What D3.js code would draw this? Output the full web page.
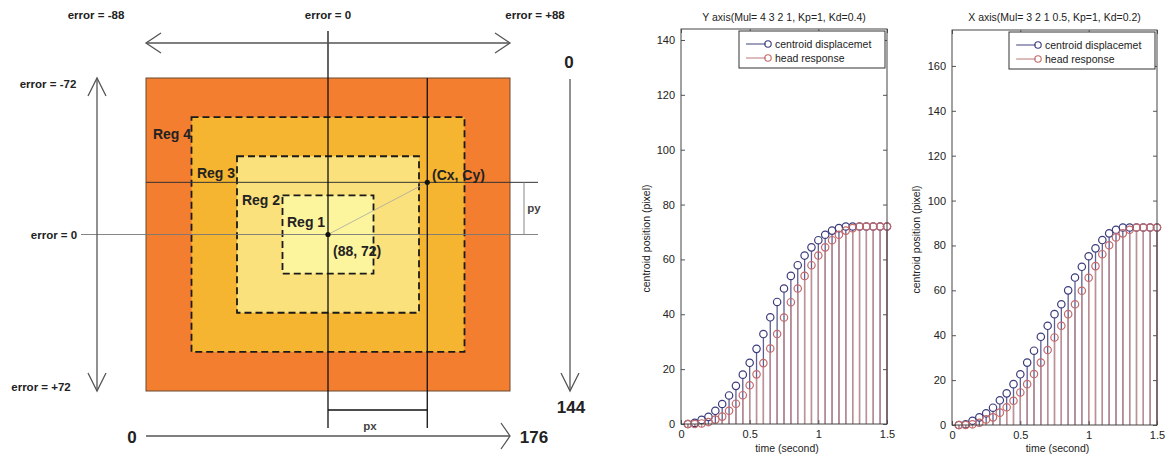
<!DOCTYPE html>
<html>
<head>
<meta charset="utf-8">
<script src="https://cdn.jsdelivr.net/npm/d3@7"></script>
<style>
  body { margin: 0; background: #fff; }
  svg { display: block; font-family: "Liberation Sans", Arial, sans-serif; }
</style>
</head>
<body>
<svg id="fig" width="1172" height="458"></svg>
<script>
// ---- data ----
const time = [0.05, 0.1, 0.15, 0.2, 0.25, 0.3, 0.35, 0.4, 0.45, 0.5,
  0.55, 0.6, 0.65, 0.7, 0.75, 0.8, 0.85, 0.9, 0.95, 1.0,
  1.05, 1.1, 1.15, 1.2, 1.25, 1.3, 1.35, 1.4, 1.45, 1.5];

// Y axis run
const yCentroid = [0, 0.4, 1.5, 2.6, 4.8, 7.3, 10.4, 13.9, 18, 22.3,
  27.4, 32.8, 38.9, 44.5, 49.4, 54, 57.9, 61.4, 64.4, 67,
  69, 70.5, 71.4, 72, 72, 72, 72, 72, 72, 72];
const yHead = [0, 0, 0.2, 0.7, 1.6, 2.7, 4.8, 7.4, 10.5, 14.1,
  18.1, 22.2, 27.5, 32.8, 38.8, 44.4, 49.4, 54, 57.9, 61.4,
  64.4, 67, 69, 70.5, 71.4, 72, 72, 72, 72, 72];

// X axis run
const xCentroid = [0, 0.3, 1.9, 3.4, 5.2, 7.7, 11, 14.1, 18.2, 22.6,
  27.8, 33.1, 39.3, 44.2, 49.4, 53.8, 60, 65.7, 70.5, 75.2,
  78.7, 82.4, 85.4, 87, 88, 88, 88, 88, 88, 88];
const xHead = [0, 0, 0.3, 1.0, 2.5, 3.4, 5.5, 7.9, 10.8, 14.5,
  18.2, 22.7, 27.8, 33.4, 39, 44.2, 49.4, 53.8, 59.8, 65.6,
  70.8, 76.1, 80.1, 83.6, 85.4, 87, 88, 88, 88, 88];

const seriesNames = ["centroid displacemet", "head response"];
const timeTicks = [0, 0.5, 1, 1.5];
const yTicksY = [0, 20, 40, 60, 80, 100, 120, 140];
const yTicksX = [0, 20, 40, 60, 80, 100, 120, 140, 160];

// image frame used in the diagram
const imgW = 176, imgH = 144;
const center = [88, 72];
const centroid = [136, 48];
const regionNames = ["Reg 4", "Reg 3", "Reg 2", "Reg 1"];
const regionFrac = [1, 0.75, 0.5, 0.25];
const regionFill = ["#f47e30", "#f6b531", "#fbe17c", "#fdf49e"];

const svg = d3.select("#fig");

// ---------------- left diagram ----------------
const ix = d3.scaleLinear().domain([0, imgW]).range([146, 510]);
const iy = d3.scaleLinear().domain([0, imgH]).range([78, 391]);
const dia = svg.append("g");

regionFrac.forEach((f, i) => {
  const x0 = center[0] - f * imgW / 2, x1 = center[0] + f * imgW / 2;
  const y0 = center[1] - f * imgH / 2, y1 = center[1] + f * imgH / 2;
  dia.append("rect")
    .attr("x", ix(x0)).attr("y", iy(y0))
    .attr("width", ix(x1) - ix(x0)).attr("height", iy(y1) - iy(y0))
    .attr("fill", regionFill[i])
    .attr("stroke", i === 0 ? "#6a4a30" : "#1a1a1a")
    .attr("stroke-width", i === 0 ? 1 : 1.8)
    .attr("stroke-dasharray", i === 0 ? null : "7,4");
});

const grayArrow = "#555";
function line(x1, y1, x2, y2, color, w) {
  return dia.append("line")
    .attr("x1", x1).attr("y1", y1).attr("x2", x2).attr("y2", y2)
    .attr("stroke", color).attr("stroke-width", w);
}
function head(tx, ty, dx, dy, ox, oy) {
  // open chevron with tip at (tx,ty)
  dia.append("path")
    .attr("d", `M${tx + dx + ox},${ty + dy + oy}L${tx},${ty}L${tx + dx - ox},${ty + dy - oy}`)
    .attr("fill", "none").attr("stroke", grayArrow).attr("stroke-width", 1.3);
}

// guide lines through centre and centroid
line(ix(0) - 65, iy(center[1]), ix(imgW) + 28, iy(center[1]), "#777", 0.9);
line(ix(0), iy(centroid[1]), ix(imgW) + 28, iy(centroid[1]), "#333", 1);
line(ix(center[0]), iy(center[1]), ix(centroid[0]), iy(centroid[1]), "#a8a8a0", 0.8);
line(ix(center[0]), 31, ix(center[0]), 428, "#111", 1.3);
line(ix(centroid[0]), iy(0), ix(centroid[0]), 428, "#111", 1.3);

// px / py brackets
line(ix(center[0]), 410, ix(centroid[0]), 410, "#111", 1.3);
line(ix(imgW) + 14, iy(centroid[1]), ix(imgW) + 14, iy(center[1]), "#888", 1);

// arrows
line(ix(0), 43, ix(imgW), 43, grayArrow, 1.3);
head(ix(0), 43, 15, 0, 0, 10);
head(ix(imgW), 43, -15, 0, 0, 10);

line(97, iy(0), 97, iy(imgH), grayArrow, 1.3);
head(97, iy(0), 0, 18, 9, 0);
head(97, iy(imgH), 0, -18, 9, 0);

line(570, iy(0) + 1, 570, iy(imgH), grayArrow, 1.3);
head(570, iy(imgH), 0, -18, 9, 0);

line(ix(0), 436, ix(imgW), 436, grayArrow, 1.3);
head(ix(imgW), 436, -9, 0, 0, 13);

// dots
[center, centroid].forEach(p => {
  dia.append("circle").attr("cx", ix(p[0])).attr("cy", iy(p[1]))
    .attr("r", 2.6).attr("fill", "#111");
});

function label(x, y, txt, size, anchor, color) {
  dia.append("text").attr("x", x).attr("y", y)
    .attr("text-anchor", anchor || "middle")
    .attr("font-size", size).attr("font-weight", "bold")
    .attr("fill", color || "#222").text(txt);
}
label(96, 19, "error = -88", 11.5);
label(ix(center[0]), 19, "error = 0", 11.5);
label(535, 19, "error = +88", 11.5);
label(48, 88, "error = -72", 11.5);
label(54, 239, "error = 0", 11.5);
label(41, 391, "error = +72", 11.5);
label(569, 68, "0", 17);
label(571, 413, "144", 17);
label(132, 443, "0", 17);
label(534, 443, "176", 17);
label(370, 430, "px", 11.5, "middle", "#444");
label(534, 212, "py", 11.5, "middle", "#444");
label(432, 180, "(Cx, Cy)", 14, "start");
label(333, 256, `(${center[0]}, ${center[1]})`, 14, "start");

const regLabelPos = [[191, 139, "end"], [235, 178, "end"], [280, 205, "end"], [287, 227, "start"]];
regionNames.forEach((n, i) => {
  label(regLabelPos[i][0], regLabelPos[i][1], n, 14, regLabelPos[i][2]);
});

// ---------------- stem charts ----------------
const blueLine = "#5e5e92", blueMark = "#3c3c7c";
const redLine = "#c48e8c", redMark = "#c4696a";
const markR = 3.7;

function stemChart(left, right, top, bottom, yMax, yTicks, title, centroidVals, headVals, yLabelX) {
  const g = svg.append("g");
  const x = d3.scaleLinear().domain([0, 1.5]).range([left, right]);
  const y = d3.scaleLinear().domain([0, yMax]).range([bottom, top]);

  // stems
  const series = [[centroidVals, blueLine, blueMark], [headVals, redLine, redMark]];
  series.forEach(([vals, lc, mc]) => {
    g.append("g").selectAll("line").data(vals).join("line")
      .attr("x1", (d, i) => x(time[i])).attr("x2", (d, i) => x(time[i]))
      .attr("y1", y(0)).attr("y2", d => y(d) + markR)
      .attr("stroke", lc).attr("stroke-width", 1.3);
  });
  series.forEach(([vals, lc, mc]) => {
    g.append("g").selectAll("circle").data(vals).join("circle")
      .attr("cx", (d, i) => x(time[i])).attr("cy", d => y(d))
      .attr("r", markR).attr("fill", "none")
      .attr("stroke", mc).attr("stroke-width", 1.2);
  });

  // axes
  const fmtT = d3.format("");
  const ax = [
    [d3.axisBottom(x).tickValues(timeTicks).tickFormat(fmtT), bottom, 0],
    [d3.axisTop(x).tickValues(timeTicks).tickFormat(""), top, 0],
    [d3.axisLeft(y).tickValues(yTicks).tickFormat(d3.format("d")), 0, left],
    [d3.axisRight(y).tickValues(yTicks).tickFormat(""), 0, right]
  ];
  ax.forEach(([a, ty, tx]) => {
    const ag = g.append("g")
      .attr("transform", `translate(${tx},${ty})`)
      .call(a.tickSize(-4).tickPadding(6));
    ag.select(".domain").remove();
    ag.selectAll("line").attr("stroke", "#555");
    ag.selectAll("text").attr("font-size", 11).attr("fill", "#222")
      .attr("font-family", "Liberation Sans, Arial, sans-serif");
  });
  g.append("rect").attr("x", left).attr("y", top)
    .attr("width", right - left).attr("height", bottom - top)
    .attr("fill", "none").attr("stroke", "#444").attr("stroke-width", 1);

  g.append("text").attr("x", (left + right) / 2).attr("y", 21)
    .attr("text-anchor", "middle").attr("font-size", 10.5).attr("fill", "#222").text(title);
  g.append("text").attr("x", (left + right) / 2 + 3).attr("y", 452)
    .attr("text-anchor", "middle").attr("font-size", 10.5).attr("fill", "#222").text("time (second)");
  g.append("text").attr("transform", `translate(${yLabelX},${(top + bottom) / 2 + 12}) rotate(-90)`)
    .attr("text-anchor", "middle").attr("font-size", 10.5).attr("fill", "#222")
    .text("centroid position (pixel)");

  // legend
  const lx = right - 148, ly = top + 2;
  g.append("rect").attr("x", lx).attr("y", ly).attr("width", 146).attr("height", 37)
    .attr("fill", "#fff").attr("stroke", "#333").attr("stroke-width", 1);
  seriesNames.forEach((n, i) => {
    const yy = ly + 13 + i * 14;
    g.append("line").attr("x1", lx + 7).attr("x2", lx + 27).attr("y1", yy).attr("y2", yy)
      .attr("stroke", series[i][1]).attr("stroke-width", 1.2);
    g.append("circle").attr("cx", lx + 29).attr("cy", yy).attr("r", 3.2)
      .attr("fill", "none").attr("stroke", series[i][2]).attr("stroke-width", 1.1);
    g.append("text").attr("x", lx + 36).attr("y", yy + 4)
      .attr("font-size", 10.5).attr("fill", "#222").text(n);
  });
}

stemChart(681, 887, 29, 424, 144, yTicksY, "Y axis(Mul= 4 3 2 1, Kp=1, Kd=0.4)", yCentroid, yHead, 650);
stemChart(952, 1157, 30, 425, 176, yTicksX, "X axis(Mul= 3 2 1 0.5, Kp=1, Kd=0.2)", xCentroid, xHead, 920);
</script>
</body>
</html>
